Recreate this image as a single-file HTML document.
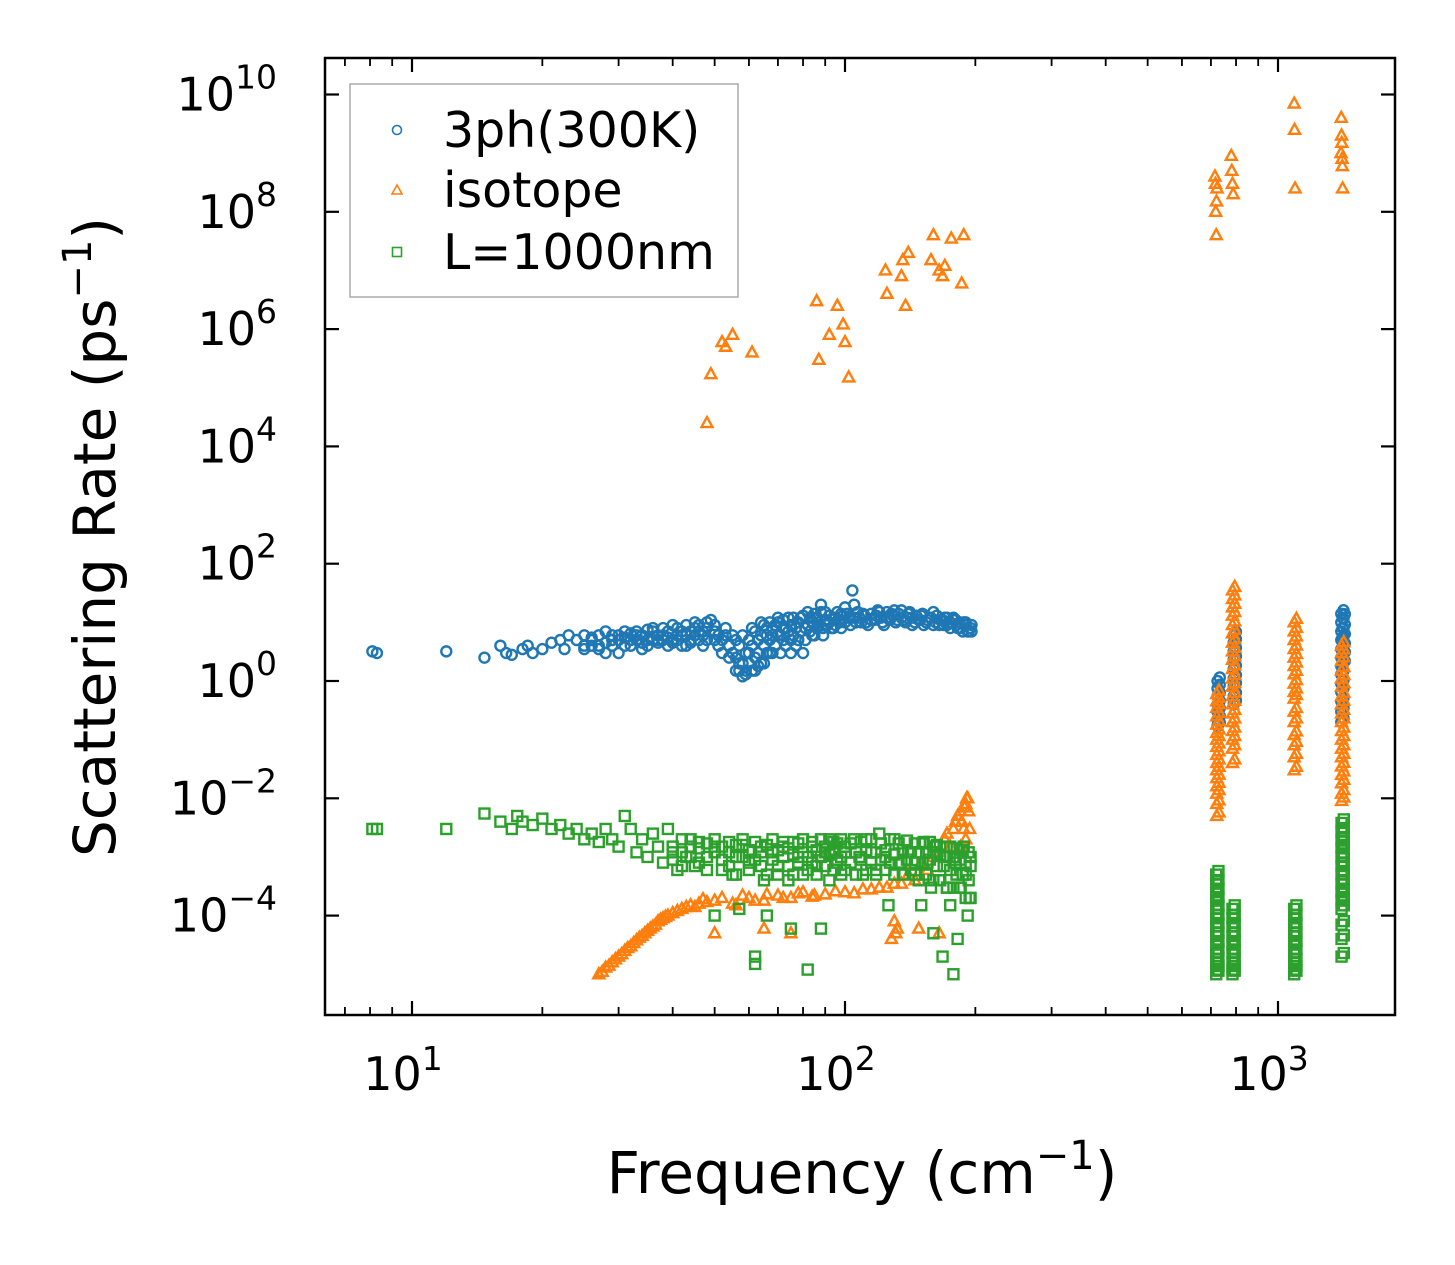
<!DOCTYPE html>
<html><head><meta charset="utf-8">
<style>
html,body{margin:0;padding:0;background:#fff;}
svg{display:block;font-family:"DejaVu Sans","Liberation Sans",sans-serif;}
</style></head>
<body>
<svg id="chart" width="1455" height="1265" viewBox="0 0 1455 1265" xmlns="http://www.w3.org/2000/svg">
<rect width="1455" height="1265" fill="#fff"/>
<g id="marks"></g>
<g id="axes"></g>
<rect x="325" y="58" width="1070" height="957" fill="none" stroke="#000" stroke-width="2.5"/>
<g>
<rect x="350" y="84" width="388" height="213" fill="#fff" stroke="#aaa" stroke-width="1.5"/>
<circle cx="397" cy="130" r="4.5" fill="none" stroke="#1f77b4" stroke-width="1.6"/>
<text x="443" y="147" font-size="49">3ph(300K)</text>
<polygon points="397,185 402,194 392,194" fill="none" stroke="#ff7f0e" stroke-width="1.6"/>
<text x="443" y="207" font-size="49">isotope</text>
<rect x="392.5" y="247.5" width="9" height="9" fill="none" stroke="#2ca02c" stroke-width="1.6"/>
<text x="443" y="269" font-size="49">L=1000nm</text>
</g>
<text x="862" y="1193" font-size="58" text-anchor="middle">Frequency (cm<tspan dy="-24" font-size="40">−1</tspan><tspan dy="24">)</tspan></text>
<text transform="translate(115,537) rotate(-90)" font-size="58" text-anchor="middle">Scattering Rate (ps<tspan dy="-24" font-size="40">−1</tspan><tspan dy="24">)</tspan></text>
</svg>
<script>
const blueLow=[[8.1,3.2],[8.3,3],[12,3.2],[14.7,2.5],[16,4],[16.5,3],[17,2.8],[18,3.5],[18.5,4],[19,3],[20,3.5],[21,4.5],[22,5],[22.5,3.5],[23,6],[24,5],[25,4],[26,5.5],[27,4],[28,3],[29,5],[30,6],[31,4],[32,5],[33,6],[34,4.5],[35,5],[36,7],[37,5],[38,6],[39,4],[40,5],[41,8],[42,6],[43,4],[44,5],[45,8],[46,7],[47,6],[48,10],[49,11],[50,7],[51,4],[52,3],[53,6],[54,2.5],[55,6],[56,1.5],[57,2],[58,1.2],[59,1.5],[60,3],[61,8],[62,1.5],[63,5],[64,10],[65,2],[66,6],[67,3],[68,8],[69,4],[70,10],[71,6],[72,5],[73,8],[74,12],[75,3],[76,6],[77,8],[78,5],[79,12],[80,3],[81,8],[82,15],[83,7],[84,10],[85,6],[86,12],[87,9],[88,20],[89,8],[90,15],[92,10],[94,8],[95,12],[97,10],[98,14],[100,18],[102,12],[104,35],[105,20],[106,10],[108,12],[110,14],[112,10],[115,11],[118,13],[120,15],[122,10],[125,12],[128,14],[130,16],[132,11],[135,12],[138,10],[140,14],[143,12],[145,10],[148,11],[150,13],[152,9],[155,11],[158,12],[160,15],[162,10],[165,9],[168,11],[170,12],[172,9],[175,10],[178,12],[180,11],[182,8],[185,8],[188,10],[190,9],[192,7],[195,8]];
const blueDense=[[25,3.5],[25,6],[26,4],[26,5],[27,3.5],[27,6],[28,4.5],[28,7],[29,4],[29,6],[30,3],[30,5],[31,5.5],[31,7],[32,4],[32,6.5],[33,5],[33,7],[34,3.5],[34,6],[35,4],[35,7.5],[36,5],[36,8],[37,4.5],[37,6],[38,5],[38,8],[39,5.5],[39,7],[40,4.5],[40,9],[41,6],[41,5],[42,7],[42,4],[43,6],[43,9],[44,4.5],[44,7],[45,6],[45,10],[46,5],[46,9],[47,7],[47,4],[48,8],[48,5],[50,5],[50,9],[51,6],[52,5],[53,8],[54,4],[55,3],[56,2.5],[56,5],[57,1.5],[57,4],[58,2],[58,6],[59,3],[59,1.3],[60,2],[60,5],[61,1.5],[61,4],[62,2.5],[62,7],[63,3],[63,1.8],[64,6],[64,2],[65,4],[65,9],[66,3],[66,8],[67,5],[67,10],[68,3],[68,6],[69,9],[69,4],[70,6],[70,12],[71,3],[72,8],[72,11],[73,4],[74,7],[75,9],[75,5],[76,12],[77,4],[78,10],[79,7],[80,13],[81,5],[82,9],[83,12],[84,6],[85,14],[86,8],[87,10],[88,15],[89,6],[90,11],[91,9],[92,13],[93,8],[94,12],[95,9],[96,15],[97,10],[98,8],[99,13],[100,10],[101,14],[103,9],[105,12],[107,15],[109,10],[111,13],[113,9],[115,14],[117,11],[119,16],[121,12],[123,9],[125,15],[127,11],[129,13],[131,10],[133,14],[135,16],[137,11],[139,12],[141,15],[143,9],[146,13],[149,11],[151,14],[154,10],[157,12],[160,9],[163,13],[166,11],[169,9],[172,12],[175,8],[178,11],[181,9],[184,10],[187,7],[190,10],[193,7],[196,9],[196,7]];
const orangeLow=[[27,1e-5],[27.5,1.1e-5],[28,1.3e-5],[28.5,1.4e-5],[29,1.6e-5],[29.5,1.8e-5],[30,2e-5],[30.5,2.2e-5],[31,2.5e-5],[31.5,2.8e-5],[32,3e-5],[32.5,3.4e-5],[33,3.8e-5],[33.5,4.2e-5],[34,4.5e-5],[34.5,5e-5],[35,5.5e-5],[35.5,6e-5],[36,6.5e-5],[36.5,7e-5],[37,8e-5],[37.5,8.5e-5],[38,9e-5],[38.5,9.5e-5],[39,1e-4],[40,1.1e-4],[41,1.2e-4],[42,1.3e-4],[43,1.4e-4],[44,1.5e-4],[45,1.4e-4],[46,1.6e-4],[47,1.9e-4],[48,1.7e-4],[50,1.8e-4],[52,2e-4],[55,1.6e-4],[56,1.5e-4],[58,2.2e-4],[60,2e-4],[62,1.8e-4],[65,1.8e-4],[66,2.3e-4],[70,2.2e-4],[72,2e-4],[75,2e-4],[78,2.4e-4],[80,2.5e-4],[84,2.1e-4],[85,2.2e-4],[90,2.3e-4],[95,2.6e-4],[100,2.5e-4],[105,2.4e-4],[110,2.8e-4],[115,2.8e-4],[120,3e-4],[125,3e-4],[130,3.5e-4],[135,3.5e-4],[140,5e-4],[145,4e-4],[150,8e-4],[155,6e-4],[160,1e-3],[165,1.2e-3],[170,2e-3],[172,2.5e-3],[175,1.5e-3],[178,3e-3],[180,4e-3],[182,5e-3],[185,6e-3],[185,1.5e-3],[186,4e-3],[188,3e-3],[189,7e-3],[190,8e-3],[190,2e-3],[191,1e-2],[192,1e-2],[193,6e-3],[194,3e-3],[50,5e-5],[65,6e-5],[75,5e-5],[128,4e-5],[131,5e-5],[132,6e-5],[148,6e-5],[165,5e-5],[130,8e-5]];
const orangeHigh=[[48,2.5e4],[49,1.7e5],[52,6e5],[53,5e5],[55,8e5],[61,4e5],[86,3e6],[87,3e5],[92,8e5],[96,2.5e6],[99,1.2e6],[100,6e5],[102,1.5e5],[124,1e7],[125,4e6],[135,8e6],[136,1.5e7],[138,2.5e6],[140,2e7],[158,1.5e7],[160,4e7],[165,1e7],[168,8e6],[170,1.2e7],[176,3.5e7],[186,6e6],[188,4e7],[715,4e8],[717,3e8],[718,1e8],[720,4e7],[721,1.5e8],[723,2.5e8],[780,9e8],[782,5e8],[785,3e8],[788,2e8],[1090,7e9],[1092,2.5e9],[1095,2.5e8],[1400,4e9],[1402,2e9],[1404,1.5e9],[1406,8e8],[1408,6e8],[1410,2.5e8],[1398,1e9]];
const greenLow=[[8.1,3e-3],[8.3,3e-3],[12,3e-3],[14.7,5.5e-3],[16,4e-3],[17,3e-3],[17.5,5e-3],[18,4e-3],[19,3.5e-3],[20,4.5e-3],[21,3e-3],[22,3.5e-3],[23,2.5e-3],[24,3e-3],[25,2e-3],[26,2.5e-3],[27,1.8e-3],[28,3e-3],[29,2e-3],[30,1.5e-3],[31,5e-3],[32,3e-3],[33,1.2e-3],[34,2e-3],[35,1e-3],[36,2.5e-3],[37,1.5e-3],[38,8e-4],[39,3e-3],[40,1.2e-3],[41,6e-4],[42,2e-3],[43,1e-3],[44,1.5e-3],[45,7e-4],[46,1.8e-3],[48,1e-3],[50,1.5e-3],[50,1e-4],[52,6e-4],[54,1.8e-3],[55,5e-4],[56,1e-3],[57,1.3e-4],[58,1.6e-3],[60,8e-4],[62,2e-5],[62,1.5e-5],[64,1.5e-3],[65,4e-4],[66,1e-4],[68,1.2e-3],[70,7e-4],[72,1.5e-3],[74,4e-4],[75,6e-5],[76,1.8e-3],[78,1e-3],[80,5e-4],[82,1.2e-5],[84,1.5e-3],[86,7e-4],[88,6e-5],[90,1.2e-3],[92,4e-4],[94,1.8e-3],[96,9e-4],[98,5e-4],[100,1.5e-3],[105,2e-3],[108,1e-3],[110,5e-4],[112,2e-3],[115,1.2e-3],[118,6e-4],[120,2.5e-3],[124,1e-3],[126,1.5e-4],[130,2e-3],[135,8e-4],[140,1.2e-3],[145,5e-4],[150,1.5e-4],[152,1.8e-3],[155,8e-4],[158,3e-4],[160,5e-5],[162,1.5e-3],[165,4e-4],[168,2e-5],[170,1e-3],[172,3e-4],[175,1.5e-4],[178,1e-5],[180,8e-4],[182,4e-5],[185,3e-4],[188,1.5e-3],[190,5e-4],[192,1e-4],[194,2e-4],[195,1e-3]];
const greenDense=[[40,1.5e-3],[40,9e-4],[42,1.2e-3],[42,7e-4],[44,2e-3],[44,1e-3],[46,8e-4],[46,1.4e-3],[48,1.7e-3],[48,6e-4],[50,1.2e-3],[50,2e-3],[52,9e-4],[52,1.5e-3],[54,7e-4],[54,1.2e-3],[56,1.6e-3],[56,5e-4],[58,1e-3],[58,2e-3],[60,1.3e-3],[60,6e-4],[62,1.8e-3],[62,9e-4],[64,7e-4],[64,1.2e-3],[66,1.6e-3],[66,5e-4],[68,9e-4],[68,2e-3],[70,1.3e-3],[70,5e-4],[72,1e-3],[72,1.8e-3],[74,7e-4],[74,1.4e-3],[76,1.1e-3],[76,5e-4],[78,1.7e-3],[78,8e-4],[80,1.2e-3],[80,2e-3],[82,6e-4],[82,1e-3],[84,1.8e-3],[84,8e-4],[86,1.3e-3],[86,5e-4],[88,1e-3],[88,2e-3],[90,7e-4],[90,1.5e-3],[92,1.1e-3],[92,2e-3],[94,6e-4],[94,1.3e-3],[96,1.7e-3],[96,8e-4],[98,1e-3],[98,2e-3],[100,6e-4],[100,1.2e-3],[103,1.7e-3],[103,8e-4],[106,1.2e-3],[106,5e-4],[109,1.8e-3],[109,9e-4],[112,1.3e-3],[112,6e-4],[115,2e-3],[115,8e-4],[118,1.2e-3],[118,5e-4],[121,1.7e-3],[121,9e-4],[124,1.3e-3],[124,6e-4],[127,2e-3],[127,8e-4],[130,1.1e-3],[130,5e-4],[133,1.7e-3],[133,8e-4],[136,1.3e-3],[136,5e-4],[139,1.9e-3],[139,9e-4],[142,1.2e-3],[142,6e-4],[145,1.7e-3],[145,8e-4],[148,1.2e-3],[148,4e-4],[151,1.7e-3],[151,8e-4],[154,1.2e-3],[154,5e-4],[157,1.8e-3],[157,9e-4],[160,1.2e-3],[160,4e-4],[163,1.6e-3],[163,7e-4],[166,1.1e-3],[166,4e-4],[169,1.5e-3],[169,7e-4],[172,1e-3],[172,3e-4],[175,1.5e-3],[175,6e-4],[178,1e-3],[178,3e-4],[181,1.4e-3],[181,5e-4],[184,9e-4],[184,3e-4],[187,1.3e-3],[187,5e-4],[190,8e-4],[190,2e-4],[193,1.2e-3],[193,4e-4],[195,7e-4],[195,2e-4]];
const blueClusters=[[725,[1,0.75,0.55,0.4,0.3,0.22,0.17]],[790,[6,4.5,3.2,2.3,1.6,1.1,0.8,0.55,0.4]],[1400,[14,10,7,5,3.5,2.5,1.8,1.3,0.9,0.65,0.45,0.3,0.2]],[1410,[12,8,5.5,3.8,2.7,1.9]]];
const orangeClusters=[[722,[0.6,0.45,0.35,0.25,0.18,0.13,0.1,0.075,0.055,0.04,0.03,0.022,0.016,0.012,0.008,0.005]],[785,[35,25,18,13,9,6.5,4.5,3.2,2.3,1.6,1.1,0.8,0.55,0.4,0.28,0.2,0.14,0.1,0.07,0.04]],[1090,[10,7,5,3.5,2.5,1.8,1.3,0.9,0.65,0.5,0.3,0.2,0.12,0.08,0.05,0.03]],[1402,[4,3,2.2,1.5,1.1,0.8,0.55,0.4,0.28,0.2,0.14,0.1,0.07,0.05,0.035,0.025,0.018,0.012,0.009]]];
const greenClusters=[[720,[5e-4,3.5e-4,2.5e-4,1.8e-4,1.3e-4,9e-5,6.5e-5,4.5e-5,3.2e-5,2.3e-5,1.6e-5,1.2e-5,1e-5]],[785,[1.3e-4,9e-5,6.5e-5,4.5e-5,3.2e-5,2.3e-5,1.6e-5,1.2e-5,1e-5]],[1090,[1.3e-4,9e-5,6.5e-5,4.5e-5,3.2e-5,2.3e-5,1.6e-5,1.2e-5,1e-5]],[1402,[3.8e-3,2.7e-3,1.9e-3,1.4e-3,1e-3,7e-4,5e-4,3.5e-4,2.5e-4,1.8e-4,1.3e-4,7e-5,4e-5,2e-5]]];
const xTickVals=[10,100,1000];
const xTickLabels=["1","2","3"];
const yTickVals=[-4,-2,0,2,4,6,8,10];

const NS="http://www.w3.org/2000/svg";
const X=f=>412+433*(Math.log10(f)-1);
const Y=v=>681-58.65*Math.log10(v);
const marks=document.getElementById('marks'), axes=document.getElementById('axes');
function mk(tag,attrs,parent){const e=document.createElementNS(NS,tag);for(const k in attrs)e.setAttribute(k,attrs[k]);parent.appendChild(e);return e;}
function circ(d,c){const e=mk('circle',{cx:X(d[0]),cy:Y(d[1]),r:5,fill:'none',stroke:c,'stroke-width':2.4},marks);

}
function tri(d,c){const x=X(d[0]),y=Y(d[1]);const e=mk('polygon',{points:`${x},${y-6} ${x+5.5},${y+4} ${x-5.5},${y+4}`,fill:'none',stroke:c,'stroke-width':2.4},marks);

}
function sq(d,c){const e=mk('rect',{x:X(d[0])-5,y:Y(d[1])-5,width:10,height:10,fill:'none',stroke:c,'stroke-width':2.4},marks);

}
const flat=cl=>{const out=[];cl.forEach(c=>c[1].forEach(v=>{out.push([c[0],v]);out.push([c[0]*1.012,v*1.15]);}));return out;};
blueLow.concat(blueDense,flat(blueClusters)).forEach(d=>circ(d,'#1f77b4'));
orangeLow.concat(orangeHigh,flat(orangeClusters)).forEach(d=>tri(d,'#ff7f0e'));
greenLow.concat(greenDense,flat(greenClusters)).forEach(d=>sq(d,'#2ca02c'));

for(let dec=0;dec<4;dec++){for(let m=1;m<10;m++){const f=m*Math.pow(10,dec);const x=X(f);if(x<326||x>1394)continue;
const L=m===1?14:8;
const t1=mk('line',{x1:x,x2:x,y1:1015,y2:1015-L,stroke:'#000','stroke-width':m===1?2.2:1.8},axes);


const t2=mk('line',{x1:x,x2:x,y1:58,y2:58+L,stroke:'#000','stroke-width':m===1?2.2:1.8},axes);

}}
xTickVals.forEach((v,i)=>{const t=mk('text',{x:X(v)-9,y:1090,'font-size':46,'text-anchor':'middle'},axes);
t.innerHTML=`10<tspan dy="-20" font-size="33">${xTickLabels[i]}</tspan>`;

});
yTickVals.forEach(p=>{const y=Y(Math.pow(10,p));
const a=mk('line',{x1:325,x2:339,y1:y,y2:y,stroke:'#000','stroke-width':2.2},axes);


const b=mk('line',{x1:1381,x2:1395,y1:y,y2:y,stroke:'#000','stroke-width':2.2},axes);


const lab=p<0?('−'+(-p)):String(p);
const t=mk('text',{x:277,y:y+16,'font-size':46,'text-anchor':'end'},axes);
t.innerHTML=`10<tspan dy="-22" font-size="33">${lab}</tspan>`;

});
</script>
</body></html>
